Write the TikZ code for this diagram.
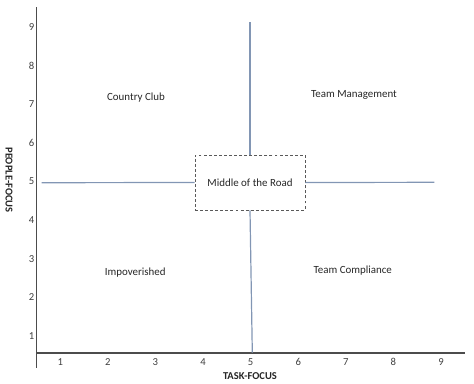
\documentclass[tikz,border=0pt]{standalone}
\usepackage{fontspec}
\setmainfont{Carlito}
\begin{document}
\begin{tikzpicture}[x=0.75pt,y=-0.75pt,
  axis/.style={draw=black!70,line width=0.9pt},
  quad/.style={draw={rgb,255:red,130;green,150;blue,180},line width=0.9pt},
  tick/.style={font=\fontsize{8pt}{9.6pt}\selectfont,text=black!75,inner sep=0pt},
  lbl/.style={font=\fontsize{8.2pt}{9.8pt}\selectfont,text=black!85,inner sep=0pt},
  axlbl/.style={font=\fontsize{7.9pt}{9.5pt}\selectfont\bfseries,text=black!85,inner sep=0pt},
  midbox/.style={draw=black!65,dash pattern=on 2.2pt off 1.6pt,line width=0.7pt,minimum width=82.5pt,minimum height=41.25pt,inner sep=0pt,font=\fontsize{8.2pt}{9.8pt}\selectfont,text=black!85}]
\useasboundingbox (0,0) rectangle (474,383);
% axes
\coordinate (ytop) at (36.7,7);
\coordinate (origin) at (36.7,353);
\coordinate (ybot) at (36.7,368);
\coordinate (xend) at (465,353);
\draw[axis] (ytop) -- (ybot);
\draw[axis] (origin) -- (xend);
% ticks
\foreach \i/\y in {9/26.7,8/65.5,7/104.2,6/142.8,5/181.5,4/220.1,3/258.8,2/297.4,1/336}
  \node[tick] (yt\i) at (31.7,\y) {\i};
\foreach \i/\x in {1/60.3,2/107.8,3/155.4,4/203,5/250.6,6/298.2,7/345.8,8/393.4,9/441}
  \node[tick] (xt\i) at (\x,361.7) {\i};
\node[axlbl] (tf) at (250,375.7) {TASK-FOCUS};
\node[axlbl,rotate=-90] (pf) at (9,180) {PEOPLE-FOCUS};
% middle box
\node[midbox] (mid) at (250,182.5) {Middle of the Road};
\coordinate (vtop) at (250,22.3);
\coordinate (vbot) at (252.3,352.7);
\coordinate (hl) at (41.7,182.7);
\coordinate (hr) at (434.3,182.3);
\draw[quad] (vtop) -- (mid.north);
\draw[quad] (mid.south) -- (vbot);
\draw[quad] (hl) -- (mid.west);
\draw[quad] (mid.east) -- (hr);
% quadrant labels
\node[lbl] (cc) at (136,97.3) {Country Club};
\node[lbl] (tm) at (354,95) {Team Management};
\node[lbl] (im) at (135.3,272.7) {Impoverished};
\node[lbl] (tc) at (352.7,270.3) {Team Compliance};
\end{tikzpicture}
\end{document}
